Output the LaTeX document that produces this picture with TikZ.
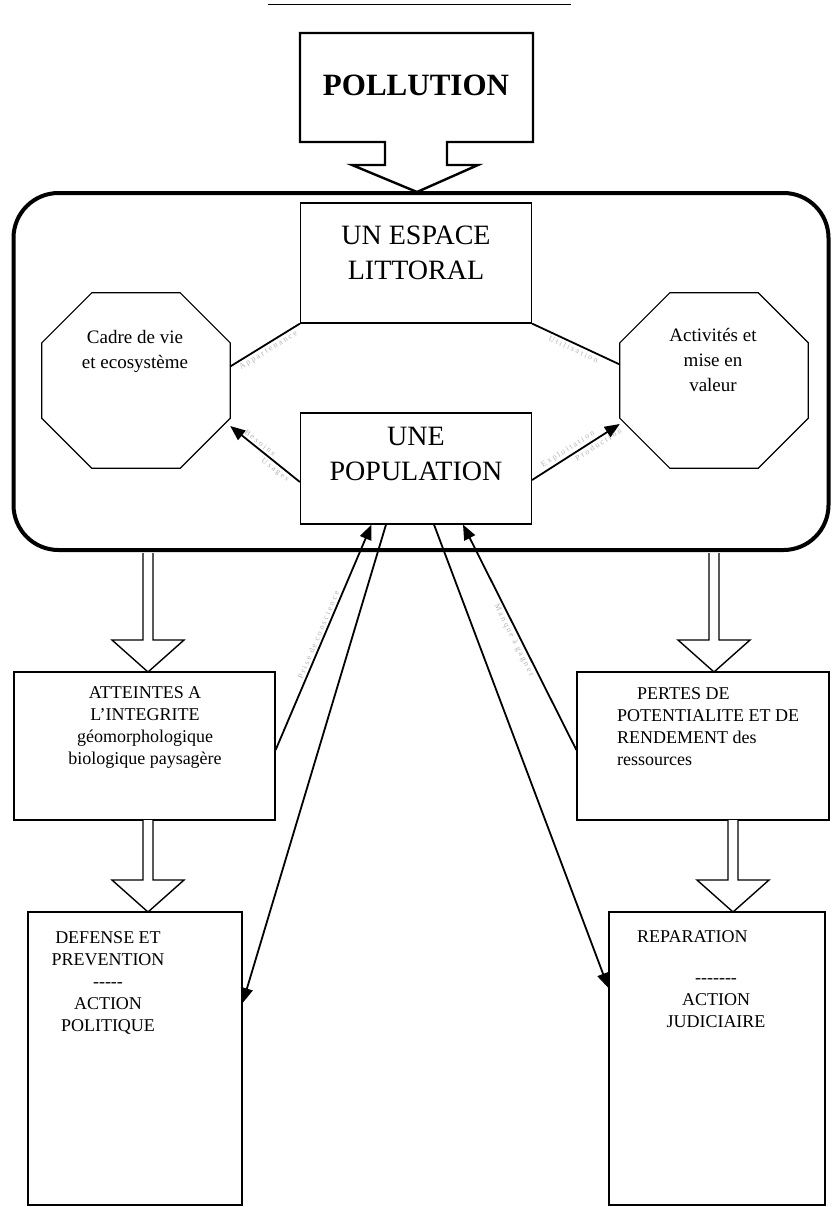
\documentclass[tikz,border=0pt]{standalone}
\usepackage{fontspec}
\setmainfont{Liberation Serif}
\usetikzlibrary{arrows.meta,calc}
\begin{document}
\begin{tikzpicture}[x=1pt,y=-1pt,
  box/.style={draw,line width=1.2pt,inner sep=0pt},
  octo/.style={draw=none,inner sep=0pt,minimum width=188,minimum height=175},
  conn/.style={line width=1.8pt},
  arr/.style={conn,-{Triangle[length=15pt,width=12pt]}},
  hollow/.style={draw,line width=1.4pt,fill=white,line join=miter},
  txt/.style={font=\fontsize{18}{22}\selectfont,inner sep=0pt,align=center},
  big/.style={font=\fontsize{28}{35}\selectfont,inner sep=0pt,align=center},
  oct/.style={font=\fontsize{19}{25}\selectfont,inner sep=0pt,align=center},
  lbl/.style={text=black!30,font=\fontsize{8}{8}\selectfont\addfontfeature{LetterSpace=25},inner sep=2pt}]
\useasboundingbox (0,0) rectangle (831,1207);

% top rule
\draw[line width=1pt] (268,5) -- (571,5);

% pollution block arrow
\draw[line width=2.4pt,line join=miter] (300,33) -- (533,33) -- (533,142) -- (447,142) -- (447,165) -- (478,165) -- (417,192) -- (352,165) -- (385,165) -- (385,142) -- (300,142) -- cycle;
\node[font=\bfseries\fontsize{31}{31}\selectfont,inner sep=0pt] (pollution) at (416,85) {POLLUTION};

% big frame
\node[draw,line width=4pt,rounded corners=45pt,minimum width=815,minimum height=357,inner sep=0pt] (monde) at (421,371.5) {};

% inner boxes
\node[box,minimum width=231,minimum height=120] (espace) at (416,263) {};
\node[big] (espacetxt) at (416,253) {UN ESPACE\\LITTORAL};
\node[box,minimum width=231,minimum height=111] (pop) at (416,468.5) {};
\node[big] (poptxt) at (416,453.5) {UNE\\POPULATION};

% octagons
\node[octo] (cadre) at (136,380.5) {};
\draw[line width=1.2pt] ([xshift=50]cadre.north west) -- ([xshift=-50]cadre.north east) -- ([yshift=-50]cadre.north east) -- ([yshift=50]cadre.south east) -- ([xshift=-50]cadre.south east) -- ([xshift=50]cadre.south west) -- ([yshift=50]cadre.south west) -- ([yshift=-50]cadre.north west) -- cycle;
\node[oct] (cadretxt) at (135,351.5) {Cadre de vie\\et ecosystème};

\node[octo] (activ) at (714,380.5) {};
\draw[line width=1.2pt] ([xshift=50]activ.north west) -- ([xshift=-50]activ.north east) -- ([yshift=-50]activ.north east) -- ([yshift=50]activ.south east) -- ([xshift=-50]activ.south east) -- ([xshift=50]activ.south west) -- ([yshift=50]activ.south west) -- ([yshift=-50]activ.north west) -- cycle;
\node[oct] (activtxt) at (713,360) {Activités et\\mise en\\valeur};

% links inside frame
\draw[conn] ([yshift=14]cadre.east) -- node[lbl,sloped,below]{Appartenance} (espace.south west);
\draw[conn] (espace.south east) -- node[lbl,sloped,below]{Utilisation} ([yshift=16]activ.west);
\draw[arr] ([yshift=-13.5]pop.west) -- node[lbl,sloped,above,pos=0.62]{Besoins} node[lbl,sloped,below,pos=0.3]{Usages} ([yshift=-45.5]cadre.east);
\draw[arr] ([yshift=-11.5]pop.east) -- node[lbl,sloped,above,pos=0.45]{Exploitation} node[lbl,sloped,below,pos=0.72]{Production} ([yshift=-43.5]activ.west);

% lower boxes
\node[box,minimum width=261,minimum height=148] (att) at (144.5,746) {};
\node[txt] (atttxt) at (145,727) {ATTEINTES A\\L'INTEGRITE\\géomorphologique\\biologique paysagère};
\node[box,minimum width=252,minimum height=148] (per) at (703,746) {};
\node[txt,align=left,anchor=west] (pertxt) at (617,727) {\hspace*{20pt}PERTES DE\\POTENTIALITE ET DE\\RENDEMENT des\\ressources};

\node[box,minimum width=214,minimum height=293] (def) at (135,1058.5) {};
\node[txt] (deftxt) at (108,983) {DEFENSE ET\\PREVENTION\\-{}-{}-{}-{}-\\ACTION\\POLITIQUE};
\node[box,minimum width=216,minimum height=293] (rep) at (717,1058.5) {};
\node[txt,anchor=west] (reptxt1) at (637,937) {REPARATION};
\node[txt] (reptxt2) at (716,1003.5) {-{}-{}-{}-{}-{}-{}-\\ACTION\\JUDICIAIRE};

% hollow arrows
\draw[hollow] (143,553) -- (143,640) -- (112,640) -- (148,672) -- (184,640) -- (153,640) -- (153,553);
\draw[hollow] (709,553) -- (709,640) -- (678,640) -- (714,672) -- (750,640) -- (719,640) -- (719,553);
\draw[hollow] (143,820) -- (143,880) -- (112,880) -- (148,912) -- (184,880) -- (153,880) -- (153,820);
\draw[hollow] (728,820) -- (728,880) -- (697,880) -- (733,912) -- (769,880) -- (738,880) -- (738,820);

% long arrows
\draw[arr] ([yshift=-4]att.east) -- node[lbl,sloped,above]{Prise de conscience} ([xshift=-44.5]pop.south);
\draw[arr] ([xshift=-30]pop.south) -- ([yshift=55.5]def.east);
\draw[arr] ([xshift=18]pop.south) -- ([yshift=70.5]rep.west);
\draw[arr] ([yshift=-4]per.west) -- node[lbl,sloped,below]{Manque à gagner} ([xshift=47]pop.south);
\end{tikzpicture}
\end{document}
